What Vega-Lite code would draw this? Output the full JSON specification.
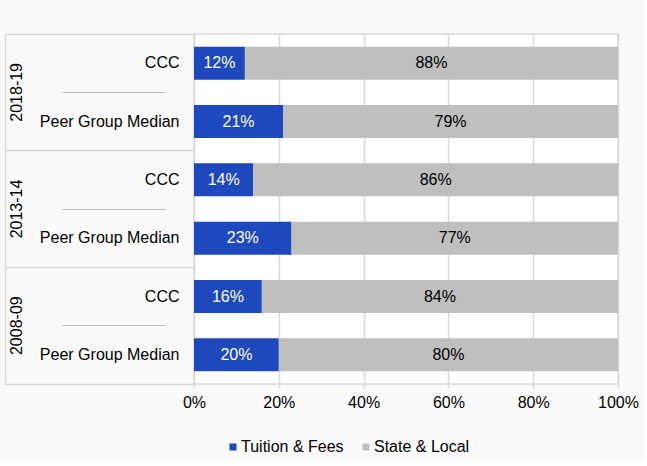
{
  "$schema": "https://vega.github.io/schema/vega-lite/v6.json",
  "width": 424,
  "height": 350,
  "padding": {"left": 4, "top": 33, "right": 5, "bottom": 5},
  "background": "#fafafa",
  "config": {
    "view": {"fill": "#ffffff", "stroke": "#d9d9d9", "strokeWidth": 1.5},
    "font": "Liberation Sans",
    "axis": {"labelFont": "Liberation Sans", "labelFontSize": 16, "labelColor": "#000000", "title": null},
    "legend": {"labelFont": "Liberation Sans", "labelFontSize": 16, "labelColor": "#000000"}
  },
  "data": {
    "values": [
      {"row": "2018-19|CCC", "year": "2018-19", "entity": "CCC", "source": "Tuition & Fees", "pct": 0.12},
      {"row": "2018-19|CCC", "year": "2018-19", "entity": "CCC", "source": "State & Local", "pct": 0.88},
      {"row": "2018-19|Peer Group Median", "year": "2018-19", "entity": "Peer Group Median", "source": "Tuition & Fees", "pct": 0.21},
      {"row": "2018-19|Peer Group Median", "year": "2018-19", "entity": "Peer Group Median", "source": "State & Local", "pct": 0.79},
      {"row": "2013-14|CCC", "year": "2013-14", "entity": "CCC", "source": "Tuition & Fees", "pct": 0.14},
      {"row": "2013-14|CCC", "year": "2013-14", "entity": "CCC", "source": "State & Local", "pct": 0.86},
      {"row": "2013-14|Peer Group Median", "year": "2013-14", "entity": "Peer Group Median", "source": "Tuition & Fees", "pct": 0.23},
      {"row": "2013-14|Peer Group Median", "year": "2013-14", "entity": "Peer Group Median", "source": "State & Local", "pct": 0.77},
      {"row": "2008-09|CCC", "year": "2008-09", "entity": "CCC", "source": "Tuition & Fees", "pct": 0.16},
      {"row": "2008-09|CCC", "year": "2008-09", "entity": "CCC", "source": "State & Local", "pct": 0.84},
      {"row": "2008-09|Peer Group Median", "year": "2008-09", "entity": "Peer Group Median", "source": "Tuition & Fees", "pct": 0.20},
      {"row": "2008-09|Peer Group Median", "year": "2008-09", "entity": "Peer Group Median", "source": "State & Local", "pct": 0.80}
    ]
  },
  "layer": [
    {
      "mark": {"type": "bar", "height": {"band": 0.566}},
      "encoding": {
        "y": {
          "field": "row", "type": "nominal",
          "scale": {"domain": ["2018-19|CCC", "2018-19|Peer Group Median", "2013-14|CCC", "2013-14|Peer Group Median", "2008-09|CCC", "2008-09|Peer Group Median"], "paddingInner": 0, "paddingOuter": 0},
          "axis": {"orient": "left", "labelExpr": "split(datum.label, '|')[1]", "ticks": false, "domain": false, "labelPadding": 15, "grid": false}
        },
        "x": {
          "field": "pct", "type": "quantitative", "stack": "zero",
          "scale": {"domain": [0, 1], "nice": false},
          "axis": {"values": [0, 0.2, 0.4, 0.6, 0.8, 1], "format": ".0%", "grid": true, "gridColor": "#d9d9d9", "gridWidth": 1.5, "ticks": true, "tickSize": 4, "tickColor": "#d9d9d9", "tickWidth": 1.5, "domain": false, "labelPadding": 6, "labelFlush": false}
        },
        "color": {
          "field": "source", "type": "nominal",
          "scale": {"domain": ["Tuition & Fees", "State & Local"], "range": ["#1E48BE", "#BFBFBF"]},
          "legend": {"orient": "none", "legendX": 31, "legendY": 405, "direction": "horizontal", "title": null, "symbolType": "square", "symbolSize": 49, "symbolStrokeWidth": 0, "columnPadding": 14, "labelOffset": 0, "padding": 0}
        },
        "order": {"field": "source", "sort": "descending"}
      }
    },
    {
      "mark": {"type": "text", "fontSize": 16, "font": "Liberation Sans"},
      "encoding": {
        "y": {"field": "row", "type": "nominal", "axis": null},
        "x": {"field": "pct", "type": "quantitative", "stack": "zero", "bandPosition": 0.5},
        "order": {"field": "source", "sort": "descending"},
        "text": {"field": "pct", "type": "quantitative", "format": ".0%"},
        "color": {"condition": {"test": "datum.source === 'Tuition & Fees'", "value": "#ffffff"}, "value": "#000000"}
      }
    },
    {
      "mark": {"type": "rule", "opacity": 0},
      "encoding": {
        "y": {
          "field": "row", "type": "nominal",
          "axis": {"orient": "left", "values": ["2018-19|CCC", "2013-14|CCC", "2008-09|CCC"], "offset": 189, "domain": true, "domainColor": "#d9d9d9", "domainWidth": 1.5, "ticks": false, "labelAngle": 270, "labelAlign": "center", "labelBaseline": "middle", "labelPadding": -11, "labelOffset": 29.17, "labelExpr": "split(datum.label, '|')[0]", "grid": false}
        }
      }
    },
    {
      "mark": {"type": "rule", "opacity": 0},
      "encoding": {
        "y": {
          "field": "row", "type": "nominal",
          "axis": {"orient": "left", "values": ["2018-19|CCC", "2013-14|CCC", "2008-09|CCC"], "bandPosition": 0, "domain": false, "ticks": true, "tickSize": 189, "tickColor": "#d9d9d9", "tickWidth": 1.5, "labels": false, "grid": false}
        }
      }
    },
    {
      "mark": {"type": "rule", "opacity": 0},
      "encoding": {
        "y": {
          "field": "row", "type": "nominal",
          "axis": {"orient": "left", "values": ["2008-09|Peer Group Median"], "bandPosition": 1, "domain": false, "ticks": true, "tickSize": 189, "tickColor": "#d9d9d9", "tickWidth": 1.5, "labels": false, "grid": false}
        }
      }
    },
    {
      "mark": {"type": "rule", "opacity": 0},
      "encoding": {
        "y": {
          "field": "row", "type": "nominal",
          "axis": {"orient": "left", "values": ["2018-19|Peer Group Median", "2013-14|Peer Group Median", "2008-09|Peer Group Median"], "bandPosition": 0, "offset": 29, "domain": false, "ticks": true, "tickSize": 103, "tickColor": "#bfbfbf", "tickWidth": 1, "labels": false, "grid": false}
        }
      }
    }
  ],
  "resolve": {"axis": {"y": "independent"}}
}
